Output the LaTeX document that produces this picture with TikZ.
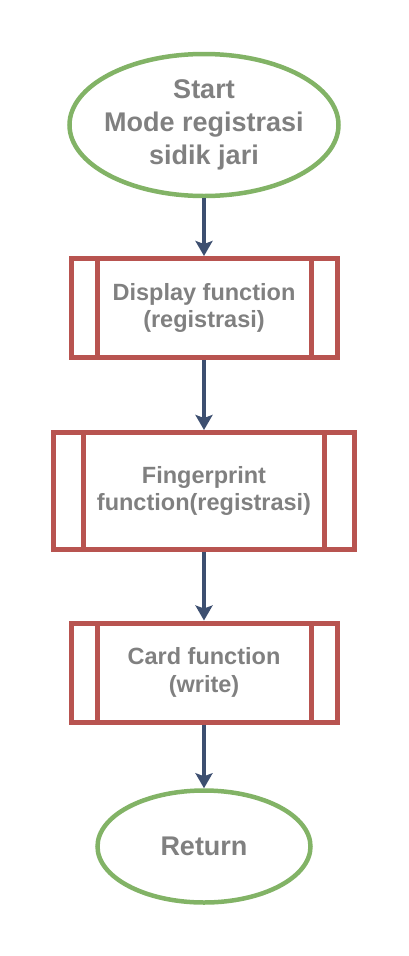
\documentclass[tikz,border=0pt]{standalone}
\usepackage{fontspec}
\setmainfont{Liberation Sans}
\usepackage{xcolor}
\definecolor{fcgreen}{RGB}{130,179,102}
\definecolor{fcred}{RGB}{184,84,80}
\definecolor{fcgrey}{RGB}{128,128,128}
\definecolor{fcarrow}{RGB}{61,79,112}
\usepackage{tikz}
\usetikzlibrary{shapes.geometric,arrows.meta}
\tikzset{
  term/.style={draw=fcgreen, line width=4.5pt, ellipse, inner xsep=-30pt, inner ysep=-20pt, align=center, text=fcgrey, font=\fontsize{27}{33}\selectfont\bfseries},
  proc/.style={draw=fcred, line width=5pt, rectangle, inner sep=0pt, align=center, text=fcgrey, font=\fontsize{23.5}{27.7}\selectfont\bfseries,
    path picture={
      \draw[fcred, line width=5pt] ([xshift=#1]path picture bounding box.north west) -- ([xshift=#1]path picture bounding box.south west);
      \draw[fcred, line width=5pt] ([xshift=-#1]path picture bounding box.north east) -- ([xshift=-#1]path picture bounding box.south east);
    }},
  arr/.style={-{Stealth[length=15pt, width=17pt, inset=3pt]}, line width=4pt, draw=fcarrow}
}

\begin{document}
\begin{tikzpicture}[x=1pt, y=-1pt]
  \useasboundingbox (0,0) rectangle (408,956);
  \node[term, minimum width=269pt, minimum height=142pt] (start) at (204,125) {Start\\Mode registrasi\\sidik jari};
  \node[proc=26pt, minimum width=266pt, minimum height=99pt] (disp) at (204,308) {Display function\\(registrasi)};
  \node[proc=30pt, minimum width=301pt, minimum height=117pt] (finger) at (204,491) {Fingerprint\\function(registrasi)};
  \node[proc=26pt, minimum width=266pt, minimum height=99pt] (card) at (204,672.5) {Card function\\(write)};
  \node[term, minimum width=213pt, minimum height=112pt] (ret) at (204,846.5) {Return};
  \draw[arr] (start) -- (disp);
  \draw[arr] (disp) -- (finger);
  \draw[arr] (finger) -- (card);
  \draw[arr] (card) -- (ret);
\end{tikzpicture}
\end{document}
